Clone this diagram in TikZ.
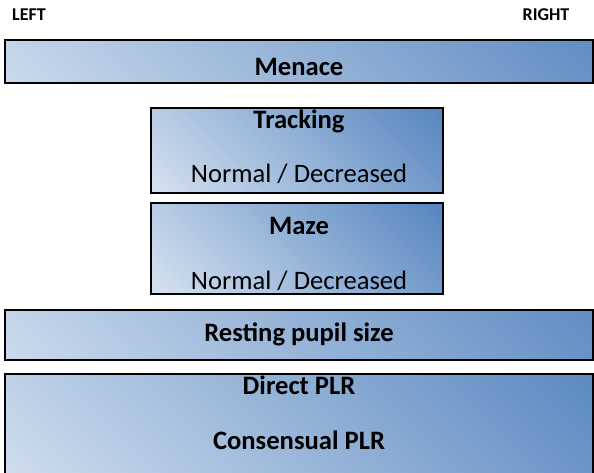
\documentclass[tikz,border=0pt]{standalone}
\usepackage{fontspec}
\setmainfont{Carlito}
\usetikzlibrary{calc}
\definecolor{gradL}{HTML}{DCE6F2}
\definecolor{gradR}{HTML}{4F81BD}
\begin{document}
\begin{tikzpicture}[x=1pt,y=1pt,
  box/.style 2 args={draw=black, line width=2pt, inner sep=0pt, outer sep=0pt,
    minimum width=#1, minimum height=#2,
    path picture={
      \pgfmathsetmacro{\halfS}{(#1+#2)/2.828427}
      \shade[transform canvas={rotate around={45:(path picture bounding box.center)}},
             left color=gradL, right color=gradR]
        ($(path picture bounding box.center)+(-\halfS,-\halfS)$) rectangle
        ($(path picture bounding box.center)+(\halfS,\halfS)$);
    }},
  ttl/.style={font=\fontsize{26.6}{30}\selectfont\bfseries, inner sep=0pt, anchor=base},
  sub/.style={font=\fontsize{26.6}{30}\selectfont, inner sep=0pt, anchor=base},
  side/.style={font=\fontsize{18}{21}\selectfont\bfseries, inner sep=0pt, anchor=base}]
\useasboundingbox (0,0) rectangle (594,472);
\clip (0,0) rectangle (594,472);
% boxes
\node[box={588}{43}] (menace) at (299,410) {};
\node[box={292}{84}] (track) at (297,321.5) {};
\node[box={292}{91}] (maze) at (297,224) {};
\node[box={588}{50}] (rest) at (299,137.5) {};
\node[box={588}{106}] (plr) at (299,45) {};
% texts
\node[side] (left) at (29,451) {LEFT};
\node[side] (right) at (546,451) {RIGHT};
\node[ttl] (tmenace) at (299,396.5) {Menace};
\node[ttl] (ttrack) at (299,343) {Tracking};
\node[sub] (strack) at (299,289.8) {Normal / Decreased};
\node[ttl] (tmaze) at (299,237.2) {Maze};
\node[sub] (smaze) at (299,182.5) {Normal / Decreased};
\node[ttl] (trest) at (299,130.5) {Resting pupil size};
\node[ttl] (tdirect) at (299,77.2) {Direct PLR};
\node[ttl] (tcons) at (299,22.8) {Consensual PLR};
\end{tikzpicture}
\end{document}
